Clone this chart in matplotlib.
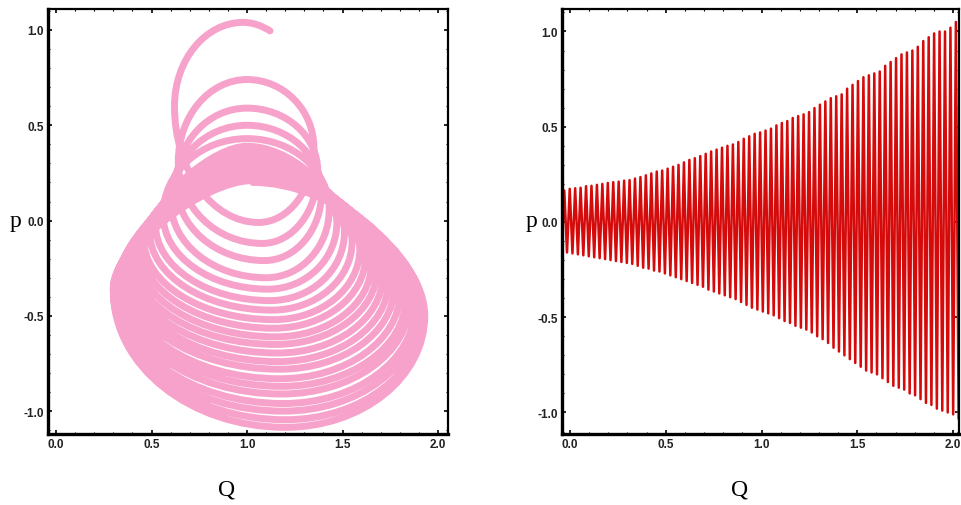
import numpy as np
import matplotlib
matplotlib.use("Agg")
from matplotlib import pyplot as plt
from matplotlib.path import Path
from matplotlib.patches import PathPatch
from matplotlib.ticker import MultipleLocator

# ---- left panel: phase portrait, loop extremes ----
start_q, start_p = 1.12, 0.995
tops_q = [0.98, 1.00, 1.00, 1.00, 1.00, 1.00, 1.00, 1.00, 1.00, 1.01, 1.01,
          1.01, 1.01, 1.02, 1.02, 1.02, 1.02, 1.02, 1.03, 1.03, 1.03, 1.03]
tops_p = [1.04, 0.74, 0.59, 0.50, 0.43, 0.39, 0.36, 0.34, 0.33, 0.32, 0.31,
          0.30, 0.29, 0.28, 0.27, 0.26, 0.25, 0.24, 0.23, 0.22, 0.21, 0.20]
lefts_q = [0.62, 0.64, 0.63, 0.60, 0.56, 0.52, 0.49, 0.46, 0.44, 0.42, 0.40,
           0.38, 0.37, 0.35, 0.34, 0.33, 0.32, 0.31, 0.30, 0.30, 0.30]
lefts_p = [0.60, 0.31, 0.19, 0.10, 0.03, -0.02, -0.06, -0.10, -0.13, -0.16, -0.19,
           -0.21, -0.23, -0.25, -0.27, -0.29, -0.31, -0.33, -0.35, -0.36, -0.37]
bottoms_q = [1.06, 1.08, 1.09, 1.10, 1.11, 1.12, 1.13, 1.14, 1.14, 1.15, 1.15,
             1.16, 1.16, 1.17, 1.17, 1.18, 1.18, 1.19, 1.19, 1.20, 1.20]
bottoms_p = [-0.01, -0.12, -0.21, -0.30, -0.36, -0.42, -0.47, -0.52, -0.565, -0.61, -0.65,
             -0.695, -0.74, -0.78, -0.83, -0.87, -0.91, -0.96, -1.00, -1.045, -1.085]
rights_q = [1.35, 1.37, 1.39, 1.43, 1.47, 1.51, 1.55, 1.59, 1.62, 1.65, 1.68,
            1.71, 1.74, 1.77, 1.80, 1.83, 1.85, 1.88, 1.90, 1.92, 1.93]
rights_p = [0.38, 0.26, 0.15, 0.06, -0.01, -0.06, -0.11, -0.15, -0.19, -0.23, -0.26,
            -0.29, -0.32, -0.35, -0.38, -0.41, -0.43, -0.45, -0.47, -0.49, -0.50]

# ---- right panel: peak / trough values of each oscillation ----
q_first_peak = -0.03
q_period = 0.0284
peaks = [0.165, 0.174, 0.177, 0.18, 0.188, 0.19, 0.195, 0.20, 0.205, 0.209, 0.212, 0.217, 0.22,
         0.228, 0.236, 0.245, 0.255, 0.265, 0.27, 0.28, 0.29, 0.30, 0.313,
         0.326, 0.335, 0.346, 0.358, 0.37, 0.38, 0.39, 0.40, 0.407, 0.42, 0.437, 0.45, 0.463,
         0.47, 0.48, 0.49, 0.507, 0.52, 0.53, 0.546, 0.556, 0.565, 0.577, 0.598, 0.616, 0.633,
         0.65, 0.66, 0.67, 0.70, 0.72, 0.74, 0.76, 0.77, 0.78, 0.79, 0.82, 0.84, 0.86, 0.88,
         0.89, 0.90, 0.92, 0.95, 0.97, 0.99, 1.00, 1.00, 1.02, 1.05]
troughs = [-0.15, -0.16, -0.165, -0.17, -0.175, -0.18, -0.185, -0.19, -0.195, -0.20, -0.205,
           -0.21, -0.215, -0.22,
           -0.23, -0.24, -0.245, -0.255, -0.26, -0.27, -0.28, -0.29, -0.30, -0.31,
           -0.32, -0.33, -0.34, -0.355, -0.365, -0.375, -0.385, -0.395, -0.405, -0.42, -0.435,
           -0.45, -0.46, -0.47, -0.48, -0.49, -0.505, -0.52, -0.53, -0.545, -0.555, -0.565,
           -0.58, -0.60, -0.615, -0.635,
           -0.66, -0.68, -0.70, -0.72, -0.74, -0.76, -0.78, -0.79, -0.80, -0.82, -0.84, -0.86,
           -0.87, -0.88, -0.90, -0.91, -0.93, -0.95, -0.96, -0.98, -0.99, -1.00, -1.01, -1.03]

tick_font = ["Liberation Sans", "DejaVu Sans"]
label_font = ["Liberation Serif", "DejaVu Serif"]

# build one continuous spiral path: top -> left -> bottom -> right -> next top ...
pts = []
for i in range(len(bottoms_p)):
    pts.append((tops_q[i], tops_p[i]))
    pts.append((lefts_q[i], lefts_p[i]))
    pts.append((bottoms_q[i], bottoms_p[i]))
    pts.append((rights_q[i], rights_p[i]))
pts.append((tops_q[-1], tops_p[-1]))

# bezier "roundness": the first loops are round, the later ones pear shaped
# (narrow neck at the top) so the two upper quarters get flatter control arms
K_round = 0.5523
K_upper_left = 0.36
K_upper_right = 0.46
n_round = 4

verts = [(start_q, start_p),
         (start_q, start_p),
         (pts[0][0] + K_round * (start_q - pts[0][0]), pts[0][1]),
         pts[0]]
codes = [Path.MOVETO, Path.CURVE4, Path.CURVE4, Path.CURVE4]
for j in range(len(pts) - 1):
    ax_, ay_ = pts[j]
    bx_, by_ = pts[j + 1]
    k = K_round
    if j % 4 == 0 and j // 4 > n_round:
        k = K_upper_left
    elif j % 4 == 3 and j // 4 + 1 > n_round:
        k = K_upper_right
    if j % 2 == 0:
        # horizontal tangent at A (top/bottom), vertical at B (left/right)
        c1 = (ax_ + k * (bx_ - ax_), ay_)
        c2 = (bx_, by_ + k * (ay_ - by_))
    else:
        c1 = (ax_, ay_ + k * (by_ - ay_))
        c2 = (bx_ + k * (ax_ - bx_), by_)
    verts += [c1, c2, (bx_, by_)]
    codes += [Path.CURVE4, Path.CURVE4, Path.CURVE4]
spiral = Path(verts, codes)

# right panel zigzag: trough, peak, trough, ...
n = len(peaks)
peak_q = q_first_peak + q_period * np.arange(n)
trough_q = q_first_peak + q_period * (np.arange(n + 1) - 0.5)
wave_q = np.empty(2 * n + 1)
wave_p = np.empty(2 * n + 1)
wave_q[0::2] = trough_q
wave_q[1::2] = peak_q
wave_p[0::2] = troughs
wave_p[1::2] = peaks

fig = plt.figure(figsize=(9.61, 5.06), dpi=100)
ax1 = fig.add_axes([0.0500, 0.1403, 0.4162, 0.8399])
ax2 = fig.add_axes([0.5848, 0.1403, 0.4131, 0.8399])

ax1.add_patch(PathPatch(spiral, facecolor="none", edgecolor="#f7a2ca",
                        lw=5.0, capstyle="round", joinstyle="round"))
ax1.set_xlim(-0.042, 2.052)
ax1.set_ylim(-1.12, 1.11)

ax2.plot(wave_q, wave_p, c="#d50a0a", lw=1.8)
ax2.set_xlim(-0.042, 2.031)
ax2.set_ylim(-1.113, 1.118)

for ax, p_x, q_x in [(ax1, 15, 227), (ax2, 532, 740)]:
    for side in ["left", "bottom"]:
        ax.spines[side].set_linewidth(2.4)
    for side in ["top", "right"]:
        ax.spines[side].set_linewidth(1.6)
    ax.xaxis.set_major_locator(MultipleLocator(0.5))
    ax.yaxis.set_major_locator(MultipleLocator(0.5))
    ax.xaxis.set_minor_locator(MultipleLocator(0.1))
    ax.yaxis.set_minor_locator(MultipleLocator(0.1))
    ax.tick_params(which="both", direction="in", top=True, right=True)
    ax.tick_params(which="major", length=3, width=1.2, pad=3)
    ax.tick_params(which="minor", length=1.5, width=0.8)
    ax.set_xticklabels([f"{v:.1f}" for v in ax.get_xticks()])
    ax.set_yticklabels([f"{v:.1f}" for v in ax.get_yticks()])
    for lab in ax.get_xticklabels() + ax.get_yticklabels():
        lab.set_family(tick_font)
        lab.set_fontsize(8.5)
        lab.set_fontweight("bold")
        lab.set_color("#222222")
    fig.text(p_x / 961, 1 - 222 / 506, "p", family=label_font, fontsize=17,
             ha="center", va="center")
    fig.text(q_x / 961, 1 - 490 / 506, "Q", family=label_font, fontsize=17,
             ha="center", va="center")

plt.savefig("out.png", dpi=100)
